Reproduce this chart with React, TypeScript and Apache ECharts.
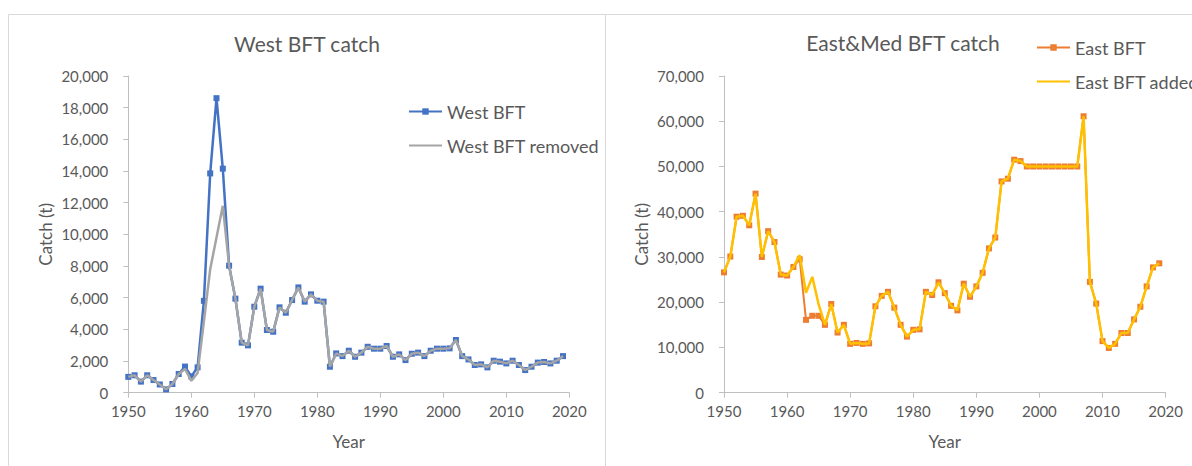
import React, { useEffect, useRef } from "react";
import * as echarts from "echarts";

const startYear = 1950;

const westBFT = [
  1000, 1100, 700, 1100, 800, 520, 210, 550, 1180, 1650,
  1030, 1600, 5800, 13850, 18600, 14150, 8020, 5940, 3160, 2990,
  5430, 6570, 3960, 3850, 5390, 5050, 5850, 6650, 5750, 6210,
  5810, 5750, 1640, 2480, 2310, 2650, 2270, 2530, 2900, 2780,
  2780, 2950, 2270, 2420, 2060, 2460, 2530, 2310, 2650, 2780,
  2780, 2800, 3330, 2310, 2100, 1750, 1790, 1600, 2020, 1960,
  1850, 2020, 1750, 1430, 1640, 1900, 1940, 1850, 2020, 2310,
];

const westBFTRemoved = [
  1000, 1100, 700, 1100, 800, 520, 210, 550, 1180, 1500,
  750, 1250, 4500, 7800, 9800, 11800, 8020, 5940, 3160, 2990,
  5430, 6570, 3960, 3850, 5390, 5050, 5850, 6650, 5750, 6210,
  5810, 5750, 1640, 2480, 2310, 2650, 2270, 2530, 2900, 2780,
  2780, 2950, 2270, 2420, 2060, 2460, 2530, 2310, 2650, 2780,
  2780, 2800, 3330, 2310, 2100, 1750, 1790, 1600, 2020, 1960,
  1850, 2020, 1750, 1430, 1640, 1900, 1940, 1850, 2020, 2310,
];

const eastBFT = [
  26600, 30100, 38900, 39100, 37000, 44000, 30000, 35700, 33300, 26100,
  25900, 27800, 29500, 16100, 17000, 17000, 15000, 19600, 13300, 15000,
  10800, 11000, 10800, 10900, 19100, 21400, 22300, 18800, 15000, 12400,
  13900, 14000, 22300, 21600, 24400, 22000, 19200, 18200, 24100, 21200,
  23500, 26500, 31900, 34300, 46700, 47300, 51500, 51200, 50000, 50000,
  50000, 50000, 50000, 50000, 50000, 50000, 50000, 61100, 24500, 19700,
  11400, 9900, 10800, 13200, 13200, 16200, 19000, 23500, 27700, 28600,
];

const eastBFTAdded = [
  26600, 30100, 38900, 39100, 37000, 44000, 30000, 35700, 33300, 26100,
  25900, 27800, 30400, 22100, 25600, 19500, 15000, 19600, 13300, 15000,
  10800, 11000, 10800, 10900, 19100, 21400, 22300, 18800, 15000, 12400,
  13900, 14000, 22300, 21600, 24400, 22000, 19200, 18200, 24100, 21200,
  23500, 26500, 31900, 34300, 46700, 47300, 51500, 51200, 50000, 50000,
  50000, 50000, 50000, 50000, 50000, 50000, 50000, 61100, 24500, 19700,
  11400, 9900, 10800, 13200, 13200, 16200, 19000, 23500, 27700, 28600,
];

const seriesNames = ["West BFT", "West BFT removed", "East BFT", "East BFT added"];
const titles = ["West BFT catch", "East&Med BFT catch"];
const xAxisName = "Year";
const yAxisName = "Catch (t)";

const toPairs = (vals: number[]) => vals.map((v, i) => [startYear + i, v]);

const FONT = "Lato, 'Noto Sans', sans-serif";
const TXT = "#595959";
const AXIS = "#bfbfbf";

export default function App() {
  const ref = useRef<HTMLDivElement>(null);
  useEffect(() => {
    if (!ref.current) return;
    const chart = echarts.init(ref.current, undefined, { renderer: "svg" });

    const mkX = (gridIndex: number) => ({
      type: "value",
      gridIndex,
      min: 1950,
      max: 2020,
      interval: 10,
      name: xAxisName,
      nameLocation: "middle",
      nameGap: 40,
      nameTextStyle: { color: TXT, fontSize: 17, fontFamily: FONT },
      axisLine: { show: true, lineStyle: { color: AXIS, width: 1 } },
      axisTick: { show: true, length: 5, lineStyle: { color: AXIS } },
      axisLabel: {
        color: TXT,
        fontSize: 15,
        fontFamily: FONT,
        margin: 11,
        formatter: (v: number) => String(v),
      },
      splitLine: { show: false },
    });

    const mkY = (gridIndex: number, max: number, interval: number) => ({
      type: "value",
      gridIndex,
      min: 0,
      max,
      interval,
      name: yAxisName,
      nameLocation: "middle",
      nameGap: 74,
      nameTextStyle: { color: TXT, fontSize: 17, fontFamily: FONT },
      axisLine: { show: true, lineStyle: { color: AXIS, width: 1 } },
      axisTick: { show: true, length: 5, lineStyle: { color: AXIS } },
      axisLabel: {
        color: TXT,
        fontSize: 15,
        fontFamily: FONT,
        margin: 20,
        formatter: (v: number) => v.toLocaleString("en-US"),
      },
      splitLine: { show: false },
    });

    const legendBase = {
      orient: "vertical",
      padding: 0,
      itemWidth: 33,
      itemHeight: 8,
      itemGap: 16,
      textStyle: { color: TXT, fontSize: 18, fontFamily: FONT },
    };

    chart.setOption({
      animation: false,
      backgroundColor: "#ffffff",
      grid: [
        { left: 128.3, right: 1192 - 569.3, top: 76, bottom: 466 - 392.7 },
        { left: 724, right: 1192 - 1165.6, top: 76, bottom: 466 - 392.7 },
      ],
      xAxis: [mkX(0), mkX(1)],
      yAxis: [mkY(0, 20000, 2000), mkY(1, 70000, 10000)],
      legend: [
        {
          ...legendBase,
          data: [
            { name: seriesNames[0] },
            { name: seriesNames[1], itemStyle: { opacity: 0 } },
          ],
          left: 408,
          top: 102.5,
        },
        {
          ...legendBase,
          data: [
            { name: seriesNames[2] },
            { name: seriesNames[3], itemStyle: { opacity: 0 } },
          ],
          left: 1036,
          top: 38.5,
        },
      ],
      graphic: [
        {
          type: "rect",
          shape: { x: 8.5, y: 14.5, width: 597, height: 520 },
          style: { fill: "none", stroke: "#d9d9d9", lineWidth: 1 },
          silent: true,
          z: -10,
        },
        {
          type: "rect",
          shape: { x: 605.5, y: 14.5, width: 700, height: 520 },
          style: { fill: "none", stroke: "#d9d9d9", lineWidth: 1 },
          silent: true,
          z: -10,
        },
        {
          type: "text",
          x: 307,
          y: 43,
          style: {
            text: titles[0],
            fill: TXT,
            font: `21px ${FONT}`,
            align: "center",
            verticalAlign: "middle",
            textAlign: "center",
            textVerticalAlign: "middle",
          },
        },
        {
          type: "text",
          x: 903,
          y: 42,
          style: {
            text: titles[1],
            fill: TXT,
            font: `21px ${FONT}`,
            align: "center",
            verticalAlign: "middle",
            textAlign: "center",
            textVerticalAlign: "middle",
          },
        },
      ],
      series: [
        {
          name: seriesNames[0],
          type: "line",
          xAxisIndex: 0,
          yAxisIndex: 0,
          data: toPairs(westBFT),
          symbol: "rect",
          symbolSize: 6,
          showSymbol: true,
          lineStyle: { color: "#4472c4", width: 2.5 },
          itemStyle: { color: "#4472c4" },
          z: 2,
        },
        {
          name: seriesNames[1],
          type: "line",
          xAxisIndex: 0,
          yAxisIndex: 0,
          data: toPairs(westBFTRemoved),
          symbol: "none",
          lineStyle: { color: "#a5a5a5", width: 2.5 },
          itemStyle: { color: "#a5a5a5" },
          z: 3,
        },
        {
          name: seriesNames[2],
          type: "line",
          xAxisIndex: 1,
          yAxisIndex: 1,
          data: toPairs(eastBFT),
          symbol: "rect",
          symbolSize: 6,
          lineStyle: { color: "#ed7d31", width: 2 },
          itemStyle: { color: "#ed7d31" },
          z: 2,
        },
        {
          name: seriesNames[3],
          type: "line",
          xAxisIndex: 1,
          yAxisIndex: 1,
          data: toPairs(eastBFTAdded),
          symbol: "none",
          lineStyle: { color: "#ffc000", width: 2.5 },
          itemStyle: { color: "#ffc000" },
          z: 3,
        },
      ],
    });

    return () => chart.dispose();
  }, []);

  return (
    <div
      ref={ref}
      style={{ position: "absolute", left: 0, top: 0, width: 1192, height: 466, background: "#fff" }}
    />
  );
}
